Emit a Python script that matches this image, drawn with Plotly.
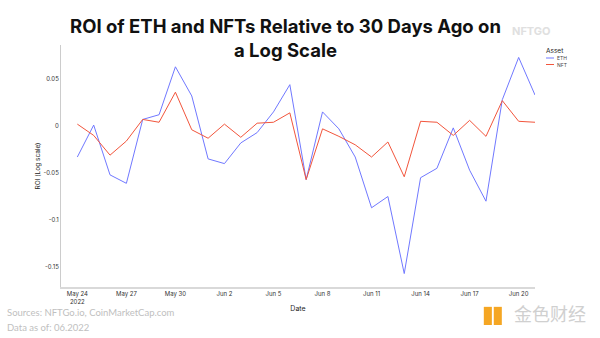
import plotly.graph_objects as go
import pandas as pd

dates = pd.date_range("2022-05-24", "2022-06-21", freq="D").strftime("%Y-%m-%d").tolist()
eth = [-0.033, 0.001, -0.052, -0.061, 0.007, 0.012, 0.063, 0.032, -0.035, -0.040,
       -0.018, -0.007, 0.015, 0.044, -0.057, 0.015, -0.003, -0.033, -0.087, -0.075,
       -0.157, -0.055, -0.045, -0.002, -0.047, -0.080, 0.028, 0.073, 0.033]
nft = [0.002, -0.010, -0.031, -0.016, 0.007, 0.004, 0.036, -0.004, -0.013, 0.002,
       -0.012, 0.003, 0.004, 0.014, -0.057, -0.003, -0.011, -0.020, -0.033, -0.017,
       -0.054, 0.005, 0.004, -0.010, 0.006, -0.011, 0.027, 0.005, 0.004]
series_names = ["ETH", "NFT"]
series_colors = ["#7078ff", "#f2553c"]
y_ticks = [0.05, 0, -0.05, -0.1, -0.15]
y_tick_text = ["0.05", "0", "-0.05", "-0.1", "-0.15"]

fig = go.Figure()
for name, vals, col in zip(series_names, [eth, nft], series_colors):
    fig.add_trace(go.Scatter(x=dates, y=vals, name=name, mode="lines",
                             line=dict(color=col, width=1)))

fig.update_layout(
    width=600, height=338,
    margin=dict(l=61, r=65, t=45, b=51, autoexpand=False),
    paper_bgcolor="white", plot_bgcolor="white",
    font=dict(family="Inter", color="#333"),
    showlegend=False,
    xaxis=dict(range=["2022-05-23", "2022-06-21"], type="date",
               tick0="2022-05-24", dtick=3 * 86400000,
               showgrid=False, zeroline=False, showline=True, linecolor="#d9d9d9", linewidth=2,
               ticks="", tickfont=dict(size=6, color="#333"),
               title=dict(text="Date", font=dict(size=7, color="#222"), standoff=2)),
    yaxis=dict(range=[-0.1713, 0.0862], tickvals=y_ticks, ticktext=y_tick_text,
               showgrid=False, zeroline=False, showline=True, linecolor="#cccccc", linewidth=1,
               ticks="", tickfont=dict(size=6, color="#333"),
               title=dict(text="ROI (Log scale)", font=dict(size=6.5, color="#222"), standoff=2)),
)

# title
fig.add_annotation(text="<b>ROI of ETH and NFTs Relative to 30 Days Ago on<br>a Log Scale</b>",
                   xref="paper", yref="paper", x=0.4726, y=1.03, xanchor="center", yanchor="middle",
                   showarrow=False, align="center",
                   font=dict(size=18.5, color="#111", family="Inter"))

# legend (manual, compact)
fig.add_annotation(text="Asset", xref="paper", yref="paper", x=(544 - 61) / 474, y=(287 - 51) / 242,
                   xanchor="left", yanchor="middle", showarrow=False,
                   font=dict(size=6.5, color="#222", family="Inter"))
for i, (name, col) in enumerate(zip(series_names, series_colors)):
    yy = (287 - (58 + 6.5 * i)) / 242
    fig.add_shape(type="line", xref="paper", yref="paper",
                  x0=(546 - 61) / 474, x1=(554 - 61) / 474, y0=yy, y1=yy,
                  line=dict(color=col, width=1))
    fig.add_annotation(text=name, xref="paper", yref="paper", x=(555 - 61) / 474, y=yy,
                       xanchor="left", yanchor="middle", showarrow=False,
                       font=dict(size=5, color="#444", family="Inter"))

fig.add_annotation(text="Sources: NFTGo.io, CoinMarketCap.com", xref="paper", yref="paper",
                   x=-0.118, y=-0.1074, xanchor="left", yanchor="middle", showarrow=False,
                   font=dict(size=9.5, color="#c0c0c0", family="Lato"))
fig.add_annotation(text="Data as of: 06.2022", xref="paper", yref="paper",
                   x=-0.118, y=-0.169, xanchor="left", yanchor="middle", showarrow=False,
                   font=dict(size=9.5, color="#c0c0c0", family="Lato"))
# watermarks
fig.add_annotation(text="<b>NFTGO</b>", xref="paper", yref="paper", x=0.947, y=1.058,
                   xanchor="left", yanchor="middle", showarrow=False,
                   font=dict(size=11, color="#e0e0e0", family="Inter"))
fig.add_annotation(text="金色财经", xref="paper", yref="paper", x=1.112, y=-0.107,
                   xanchor="right", yanchor="middle", showarrow=False,
                   font=dict(size=18, color="#d0d0d0", family="Noto Sans CJK SC"))
fig.add_shape(type="rect", xref="paper", yref="paper", x0=0.892, x1=0.909, y0=-0.157, y1=-0.082,
              fillcolor="#f5a623", line_width=0)
fig.add_shape(type="rect", xref="paper", yref="paper", x0=0.913, x1=0.930, y0=-0.157, y1=-0.082,
              fillcolor="#f5a623", line_width=0)

fig.write_html("out.html")
